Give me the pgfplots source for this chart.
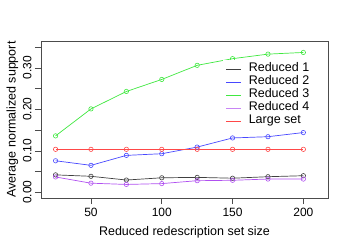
\documentclass[border=0pt]{standalone}
\usepackage{pgfplots}
\pgfplotsset{compat=1.18}
\usepackage{fontspec}
\setmainfont{Liberation Sans}
\definecolor{cblack}{HTML}{404040}
\definecolor{cblue}{HTML}{4848FF}
\definecolor{cgreen}{HTML}{40E840}
\definecolor{cpurple}{HTML}{B050F0}
\definecolor{cred}{HTML}{FF4848}
\pgfplotsset{
  ser/.style={color=#1, line width=0.7pt, mark=o, mark size=2.2bp, mark options={line width=0.6pt}},
}
\begin{document}
\begin{tikzpicture}
\useasboundingbox (-41bp,-51bp) rectangle (308bp,198bp);
\begin{axis}[
  at={(0,0)}, anchor=south west,
  scale only axis, width=287bp, height=157bp,
  xmin=14.7, xmax=217.4, ymin=-0.0137, ymax=0.3646,
  xtick={50,100,150,200},
  ytick={0,0.05,0.10,0.15,0.20,0.25,0.30,0.35},
  yticklabels={0.00,,0.10,,0.20,,0.30,},
  tick pos=left, tick align=outside, major tick length=6bp,
  axis line style={black!70, line width=0.6pt},
  tick style={black!70, line width=0.6pt},
  /pgf/number format/assume math mode=true,
  ticklabel style={font=\fontsize{12bp}{14bp}\selectfont},
  yticklabel style={rotate=90, anchor=south, xshift=0bp},
  xticklabel style={yshift=-1bp},
  label style={font=\fontsize{12.5bp}{14bp}\selectfont},
  xlabel={Reduced redescription set size},
  ylabel={Average normalized support},
  xlabel style={yshift=-2.5bp},
  ylabel style={yshift=-2bp},
  legend style={draw=none, at={(rel axis cs:0.634,0.878)}, anchor=north west,
    font=\fontsize{12.5bp}{14bp}\selectfont, row sep=0bp,
    nodes={text height=9bp, text depth=4bp, inner ysep=0pt, inner xsep=7bp}},
  legend cell align=left,
]
\addplot[ser=cblack, forget plot] coordinates {(25,0.042) (50,0.0386) (75,0.0296) (100,0.035) (125,0.036) (150,0.034) (175,0.0376) (200,0.040)};
\addplot[ser=cblue, forget plot] coordinates {(25,0.076) (50,0.065) (75,0.089) (100,0.093) (125,0.109) (150,0.131) (175,0.134) (200,0.144)};
\addplot[ser=cgreen, forget plot] coordinates {(25,0.136) (50,0.201) (75,0.243) (100,0.272) (125,0.306) (150,0.322) (175,0.333) (200,0.337)};
\addplot[ser=cpurple, forget plot] coordinates {(25,0.037) (50,0.022) (75,0.019) (100,0.021) (125,0.028) (150,0.029) (175,0.032) (200,0.032)};
\addplot[ser=cred, forget plot] coordinates {(25,0.1036) (50,0.1036) (75,0.1036) (100,0.1036) (125,0.1036) (150,0.1036) (175,0.1036) (200,0.1036)};
\addlegendimage{legend image code/.code={\draw[cblack, line width=0.65pt] (0bp,0bp) -- (15bp,0bp);}}
\addlegendentry{Reduced 1}
\addlegendimage{legend image code/.code={\draw[cblue, line width=0.65pt] (0bp,0bp) -- (15bp,0bp);}}
\addlegendentry{Reduced 2}
\addlegendimage{legend image code/.code={\draw[cgreen, line width=0.65pt] (0bp,0bp) -- (15bp,0bp);}}
\addlegendentry{Reduced 3}
\addlegendimage{legend image code/.code={\draw[cpurple!70, line width=0.65pt] (0bp,0bp) -- (15bp,0bp);}}
\addlegendentry{Reduced 4}
\addlegendimage{legend image code/.code={\draw[cred, line width=0.65pt] (0bp,0bp) -- (15bp,0bp);}}
\addlegendentry{Large set}
\end{axis}
\end{tikzpicture}
\end{document}
